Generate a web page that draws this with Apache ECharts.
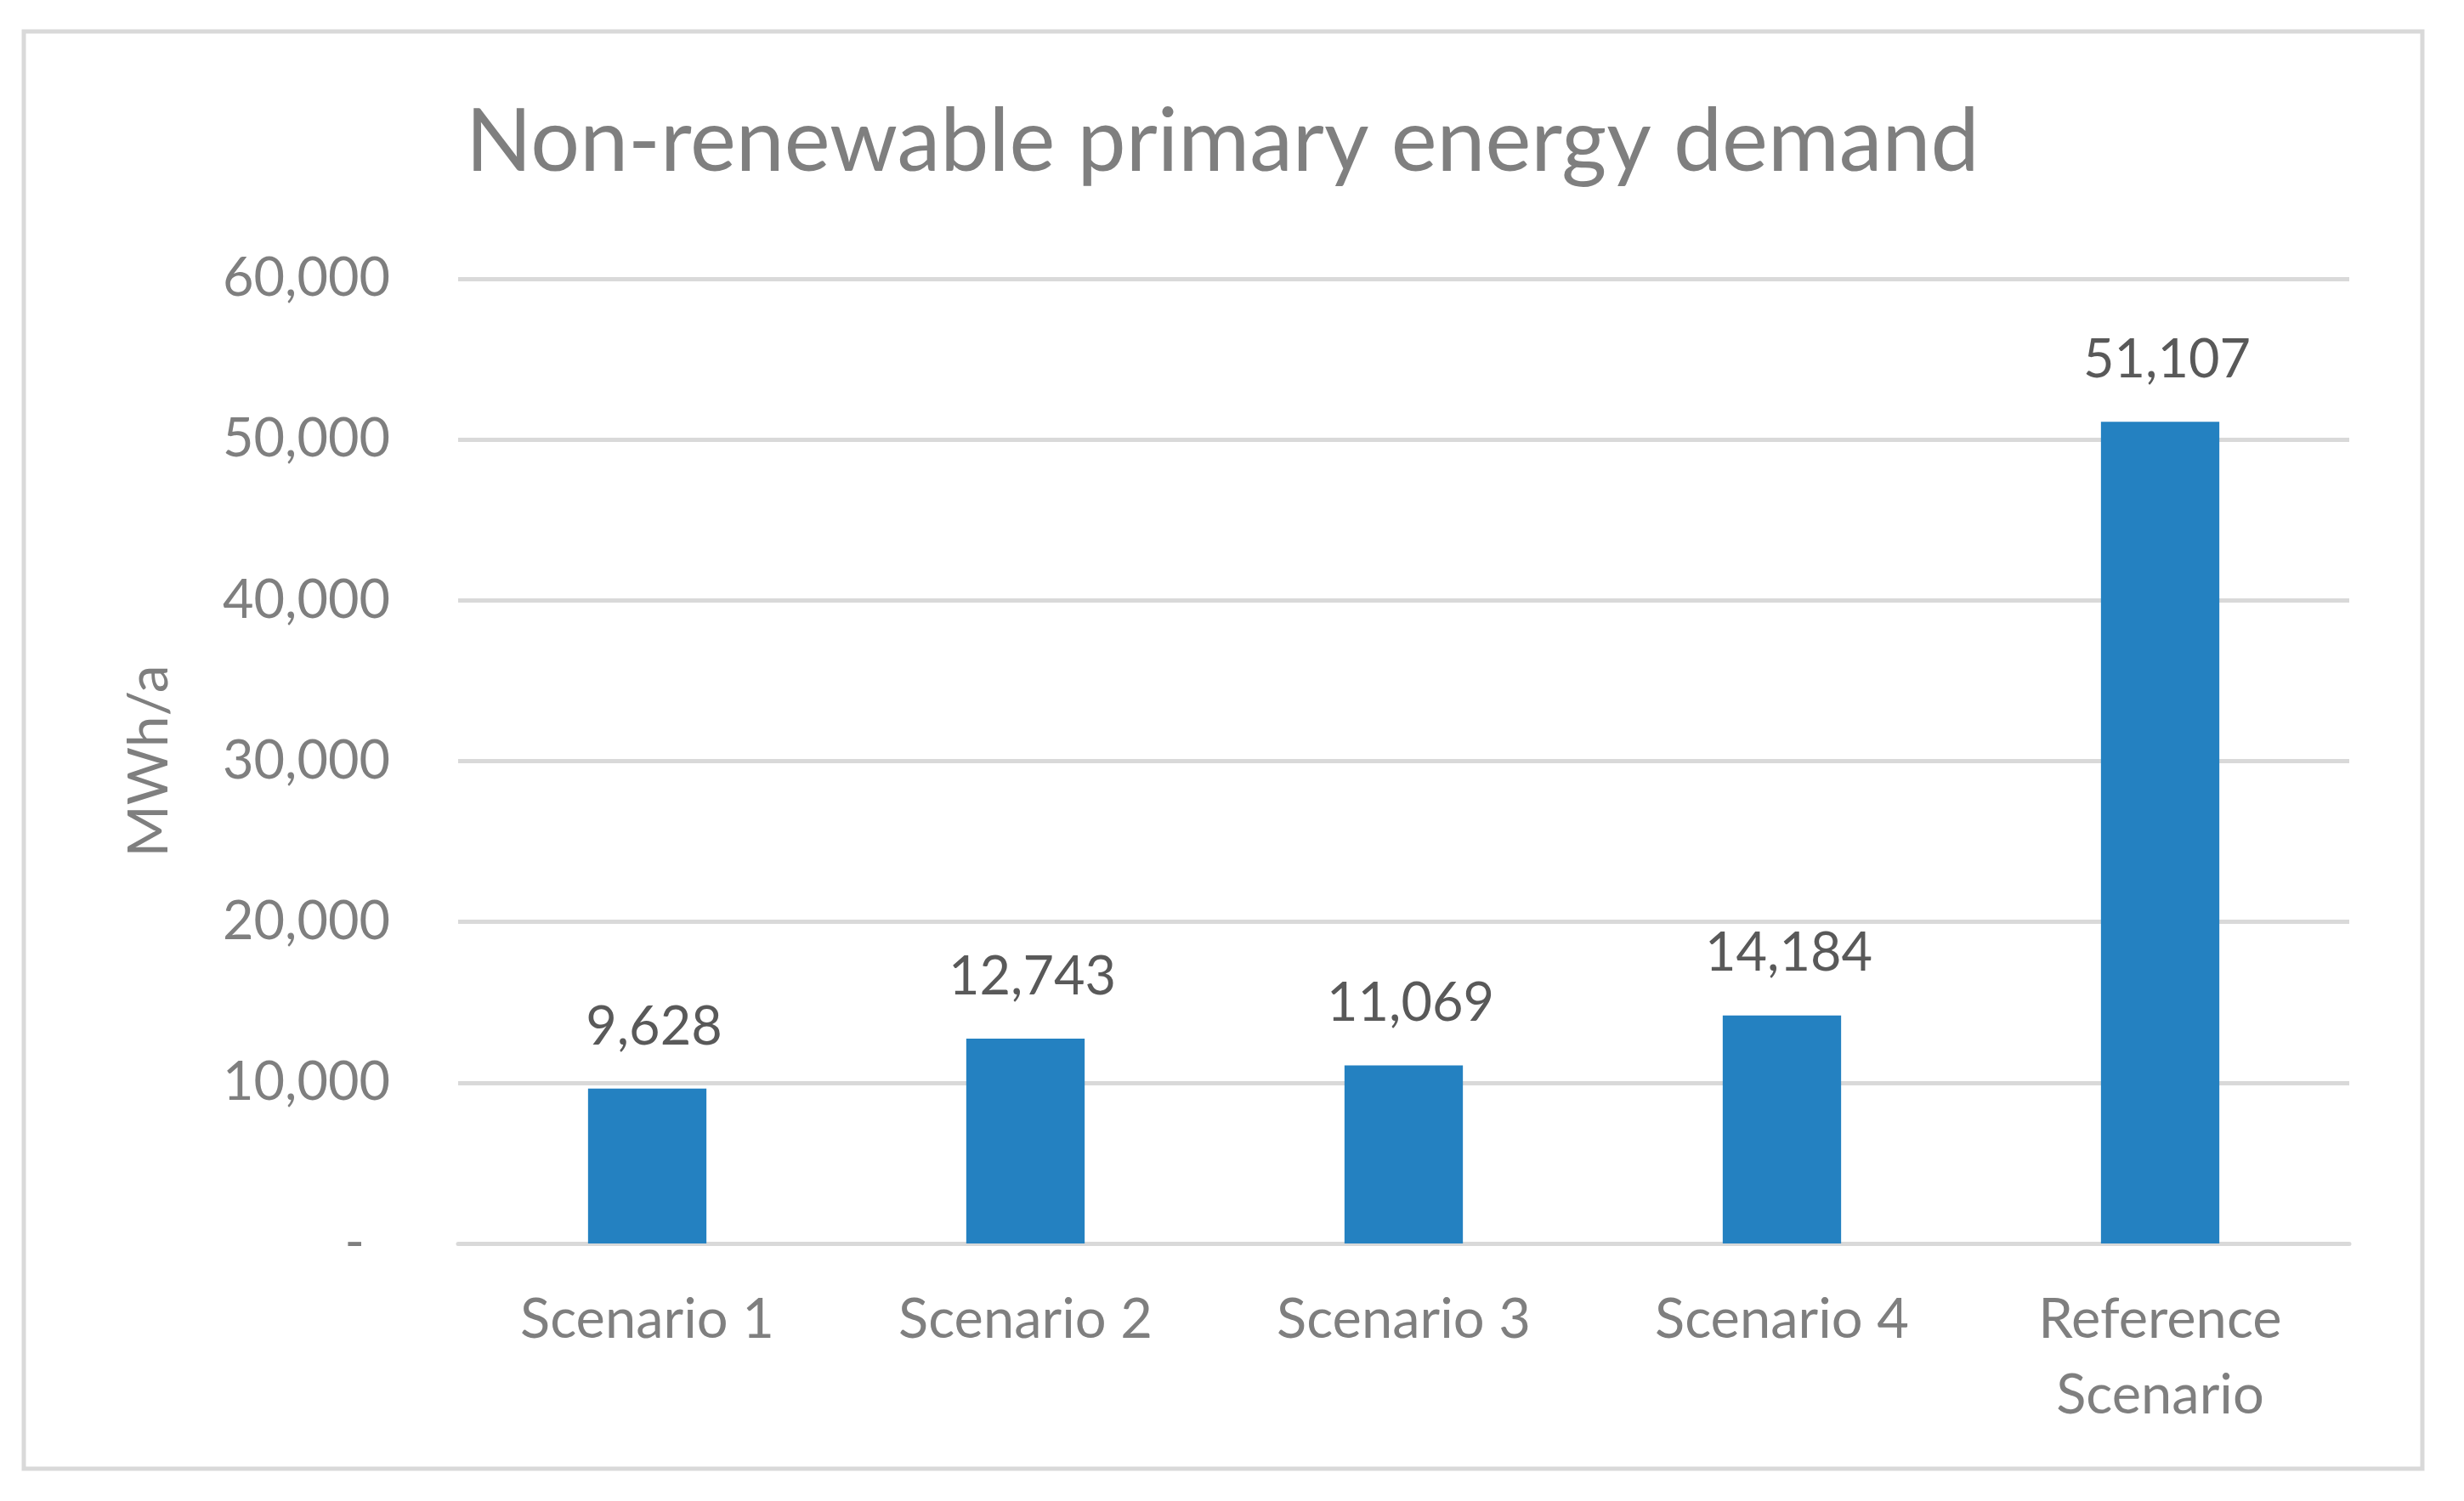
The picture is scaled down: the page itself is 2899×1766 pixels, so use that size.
<!DOCTYPE html>
<html>
<head>
<meta charset="utf-8">
<script src="https://cdn.jsdelivr.net/npm/echarts@6/dist/echarts.min.js"></script>
<style>
html,body{margin:0;padding:0;background:#fff;}
#chart{width:2899px;height:1766px;}
</style>
</head>
<body>
<div id="chart"></div>
<script>
const titleText = 'Non-renewable primary energy demand';
const yAxisName = 'MWh/a';
const categories = ['Scenario 1', 'Scenario 2', 'Scenario 3', 'Scenario 4', 'Reference\nScenario'];
const values = [9628, 12743, 11069, 14184, 51107];
const yMin = 0, yMax = 60000, yInterval = 10000;

const FONT = 'Lato';
const fmt = v => Number(v).toLocaleString('en-US');

const chart = echarts.init(document.getElementById('chart'), null, {renderer: 'canvas'});
chart.setOption({
  backgroundColor: '#ffffff',
  animation: false,
  graphic: [{
    type: 'rect',
    shape: {x: 28, y: 37, width: 2822, height: 1691},
    style: {fill: 'none', stroke: '#d9d9d9', lineWidth: 5},
    silent: true
  }],
  title: {
    text: titleText,
    left: 543,
    top: 112,
    textStyle: {fontFamily: FONT, fontSize: 102, fontWeight: 'normal', color: '#7f7f7f'}
  },
  grid: {left: 539, right: 135, top: 328, bottom: 303, containLabel: false},
  xAxis: {
    type: 'category',
    data: categories,
    axisLine: {show: true, lineStyle: {color: '#d9d9d9', width: 5}},
    axisTick: {show: false},
    axisLabel: {fontFamily: FONT, fontSize: 65, color: '#7f7f7f', margin: 46, lineHeight: 89, interval: 0}
  },
  yAxis: {
    type: 'value',
    min: yMin, max: yMax, interval: yInterval,
    name: yAxisName,
    nameLocation: 'middle',
    nameRotate: 90,
    nameGap: 330,
    nameTextStyle: {fontFamily: FONT, fontSize: 66, color: '#7f7f7f'},
    axisLine: {show: false},
    axisTick: {show: false},
    splitLine: {show: true, lineStyle: {color: '#d9d9d9', width: 5}},
    axisLabel: {
      fontFamily: FONT, fontSize: 63, color: '#7f7f7f', margin: 80,
      formatter: v => v === 0 ? '{z|-}' : fmt(v),
      rich: {z: {fontFamily: FONT, fontSize: 63, color: '#7f7f7f', padding: [0, 30, 0, 0]}}
    }
  },
  series: [{
    type: 'bar',
    data: values,
    barWidth: '31.3%',
    itemStyle: {color: '#2481c1'},
    label: {
      show: true, position: 'top', distance: 41, offset: [8, 0],
      fontFamily: FONT, fontSize: 63, color: '#595959',
      formatter: p => fmt(p.value)
    }
  }]
});
</script>
</body>
</html>
